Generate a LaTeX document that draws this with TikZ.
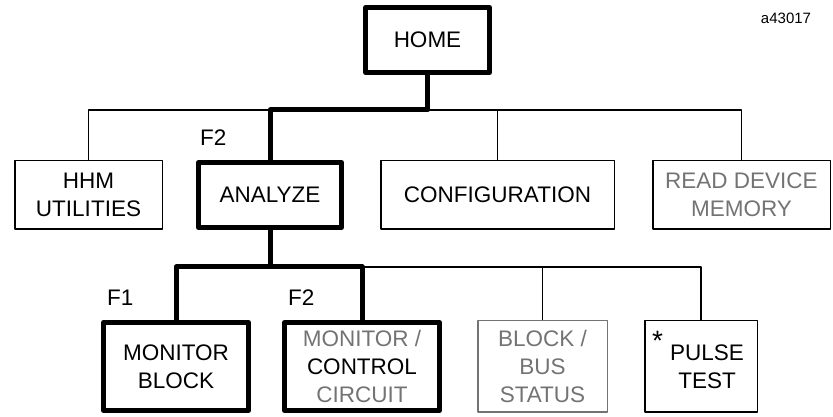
\documentclass[tikz,border=0pt]{standalone}
\usepackage{fontspec}
\setmainfont{Liberation Sans}
\usepackage{xcolor}
\definecolor{dim}{gray}{0.45}

\begin{document}
\begin{tikzpicture}[x=1pt, y=1pt, line join=round,
    menu/.style={draw, line width=1.5pt, align=center, inner sep=0pt, font=\fontsize{22.5}{28}\selectfont},
    hotmenu/.style={menu, line width=5pt},
    fkey/.style={anchor=base west, inner sep=0pt, font=\fontsize{22.5}{28}\selectfont},
    link/.style={line width=1.5pt},
    hot/.style={line width=5pt}]
    \useasboundingbox (0,0) rectangle (833,417);

    \node[hotmenu, minimum width=124pt, minimum height=65pt] (home) at (427.5,377) {HOME};
    \node[font=\fontsize{15}{18}\selectfont, inner sep=0pt] (code) at (786,399) {a43017};

    \node[menu, minimum width=147.5pt, minimum height=68.5pt] (hhm) at (88.5,222) {HHM\\UTILITIES};
    \node[hotmenu, minimum width=143pt, minimum height=65pt] (analyze) at (270,222) {ANALYZE};
    \node[menu, minimum width=233.5pt, minimum height=68.5pt] (config) at (497.5,222) {CONFIGURATION};
    \node[menu, text=dim, minimum width=177.5pt, minimum height=68.5pt] (read) at (741.5,222) {READ DEVICE\\MEMORY};
    \node[fkey] (fanalyze) at (200,271) {F2};

    \node[hotmenu, minimum width=145pt, minimum height=88pt] (mblock) at (176,50.5) {MONITOR\\BLOCK};
    \node[hotmenu, minimum width=155pt, minimum height=88pt] (mctrl) at (362,50.5)
        {\textcolor{dim}{MONITOR /}\\CONTROL\\\textcolor{dim}{CIRCUIT}};
    \node[menu, draw=dim, text=dim, minimum width=129.5pt, minimum height=91.5pt] (bbus) at (542.5,50.5) {BLOCK /\\BUS\\STATUS};
    \node[menu, minimum width=112.5pt, minimum height=91.5pt] (pulse) at (701,50.5) {\hspace*{12pt}PULSE\\\hspace*{12pt}TEST};
    \node[fkey] (fmblock) at (107,111) {F1};
    \node[fkey] (fmctrl) at (288,111) {F2};
    \node[anchor=north west, inner sep=0pt, font=\fontsize{28}{30}\selectfont] (star) at (652,86) {*};

    % menu bars
    \coordinate (bus1) at (0,307);
    \coordinate (bus2) at (0,150);

    \draw[link] (hhm.north) |- (read.north |- bus1) -- (read.north);
    \draw[link] (config.north) -- (config.north |- bus1);
    \draw[hot] (home.south) -- (home.south |- bus1) -| (analyze.north);

    \draw[link] (mctrl.north |- bus2) -| (pulse.north);
    \draw[link] (bbus.north) -- (bbus.north |- bus2);
    \draw[hot] (analyze.south) -- (analyze.south |- bus2);
    \draw[hot] (mblock.north) |- (mctrl.north |- bus2) -- (mctrl.north);
\end{tikzpicture}
\end{document}
